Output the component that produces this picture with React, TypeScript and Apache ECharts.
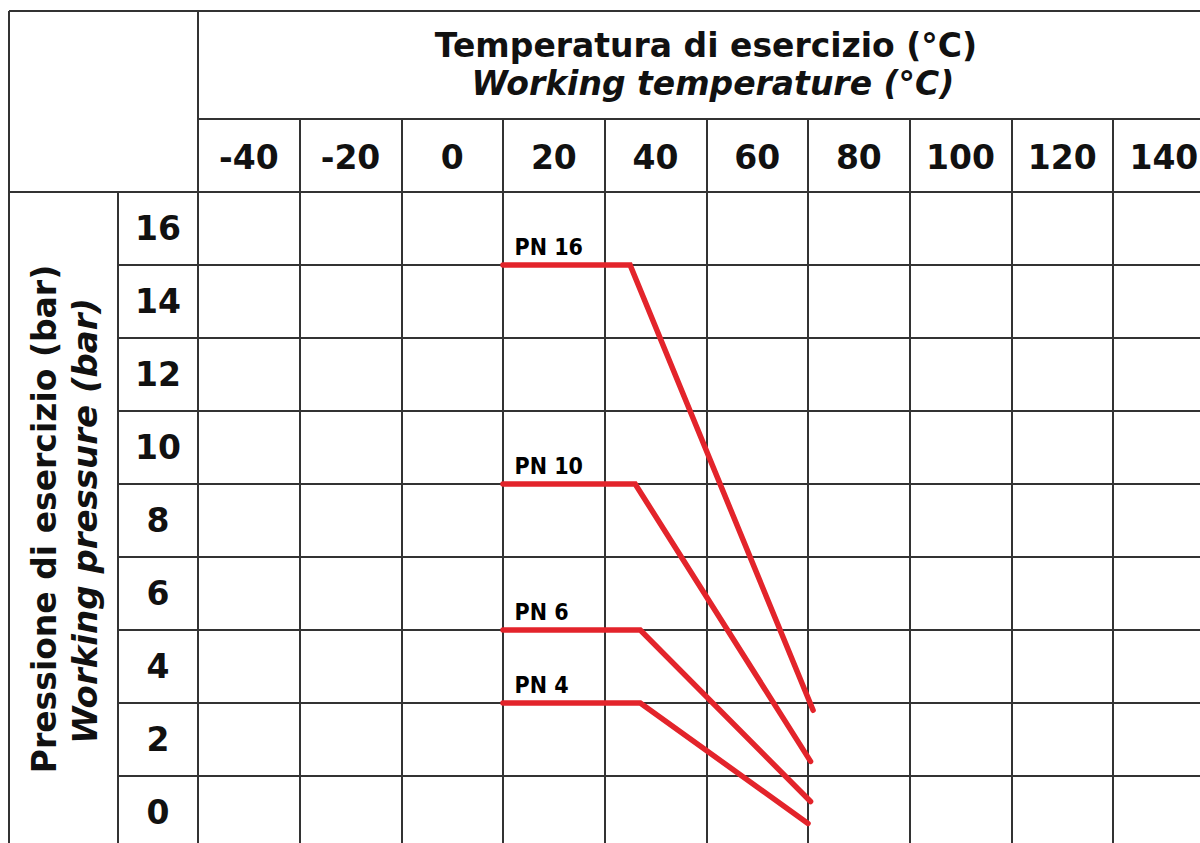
import React, { useEffect, useRef } from "react";
import * as echarts from "echarts";

// Tick labels
const xLabels = ["-40", "-20", "0", "20", "40", "60", "80", "100", "120", "140"];
const yLabels = ["0", "2", "4", "6", "8", "10", "12", "14", "16"];

// Series values [temperature °C, pressure bar]
const pn16 = [[10, 15], [35, 15], [71, 2.8]];
const pn10 = [[10, 9], [36, 9], [70.5, 1.4]];
const pn6 = [[10, 5], [37, 5], [70.5, 0.3]];
const pn4 = [[10, 3], [37, 3], [70, -0.3]];
const seriesNames = ["PN 16", "PN 10", "PN 6", "PN 4"];
const seriesData = [pn16, pn10, pn6, pn4];

const titleX1 = "Temperatura di esercizio (°C)";
const titleX2 = "Working temperature (°C)";
const titleY1 = "Pressione di esercizio (bar)";
const titleY2 = "Working pressure (bar)";

const CW = 1230, CH = 870; // canvas larger than viewport, clipped by wrapper

export default function App() {
  const ref = useRef<HTMLDivElement>(null);
  useEffect(() => {
    if (!ref.current) return;
    const chart = echarts.init(ref.current, null, { renderer: "svg" });

    const W = 1200, H = 843;
    const tableLeft = 9, tableTop = 11, headerMid = 119, headerBottom = 192;
    const yColLeft = 118, plotLeft = 198;
    const colW = 101.67, rowH = 73;
    const plotW = colW * xLabels.length;
    const plotH = rowH * yLabels.length;
    const lineColor = "#333";
    const lw = 2;
    const font = "'DejaVu Sans', Verdana, sans-serif";
    const condFont = "'DejaVu Sans Condensed', 'DejaVu Sans', sans-serif";
    const red = "#e3242b";

    const gl = (x1: number, y1: number, x2: number, y2: number) => ({
      type: "line",
      shape: { x1, y1, x2, y2 },
      style: { stroke: lineColor, lineWidth: lw },
      silent: true,
    });

    const splitLine = { show: true, interval: 0, lineStyle: { color: lineColor, width: lw } };

    const option: any = {
      animation: false,
      backgroundColor: "#fff",
      grid: [
        { left: plotLeft, top: headerBottom, width: plotW, height: plotH },
        { left: plotLeft, top: headerMid, width: plotW, height: headerBottom - headerMid },
        { left: yColLeft, top: headerBottom, width: plotLeft - yColLeft, height: plotH },
      ],
      xAxis: [
        {
          type: "category", gridIndex: 0, data: xLabels, position: "top",
          axisLine: { show: false }, axisTick: { show: false },
          axisLabel: {
            interval: 0, margin: 35, fontSize: 33, fontWeight: "bold",
            fontFamily: font, color: "#111", verticalAlign: "middle",
          },
          splitLine,
        },
        {
          type: "category", gridIndex: 1, data: xLabels,
          axisLine: { show: false }, axisTick: { show: false },
          axisLabel: { show: false }, splitLine,
        },
        { type: "value", gridIndex: 0, min: -50, max: 150, show: false },
        { type: "value", gridIndex: 1, show: false },
        { type: "value", gridIndex: 2, show: false },
      ],
      yAxis: [
        {
          type: "category", gridIndex: 0, data: yLabels,
          axisLine: { show: false }, axisTick: { show: false },
          axisLabel: {
            interval: 0, margin: 40, fontSize: 33, fontWeight: "bold",
            fontFamily: font, color: "#111", align: "center",
          },
          splitLine,
        },
        { type: "value", gridIndex: 1, show: false },
        { type: "value", gridIndex: 0, min: -1, max: 17, show: false },
        {
          type: "category", gridIndex: 2, data: yLabels,
          axisLine: { show: false }, axisTick: { show: false },
          axisLabel: { show: false }, splitLine,
        },
      ],
      series: seriesData.map((d, i) => ({
        type: "line", name: seriesNames[i], xAxisIndex: 2, yAxisIndex: 2,
        data: d.map((p, j) =>
          j === 0
            ? {
                value: p,
                label: {
                  show: true, formatter: seriesNames[i], position: [12, -17.5],
                  align: "left", verticalAlign: "middle",
                  fontFamily: condFont, fontWeight: "bold", fontSize: 23, color: "#000",
                },
              }
            : { value: p }
        ),
        symbol: "circle", symbolSize: 1, showSymbol: true,
        itemStyle: { color: red },
        lineStyle: { color: red, width: 5.5, cap: "round", join: "miter" },
        z: 5,
      })),
      graphic: [
        gl(tableLeft, tableTop, W, tableTop),
        gl(tableLeft, tableTop, tableLeft, H),
        gl(plotLeft, tableTop, plotLeft, H),
        gl(plotLeft, headerMid, W, headerMid),
        gl(tableLeft, headerBottom, W, headerBottom),
        gl(yColLeft, headerBottom, yColLeft, H),
        {
          type: "text", x: 706, y: 45,
          style: { text: titleX1, font: `bold 33px ${font}`, fill: "#111", textAlign: "center", textVerticalAlign: "middle" },
        },
        {
          type: "text", x: 713, y: 83,
          style: { text: titleX2, font: `italic bold 33px ${font}`, fill: "#111", textAlign: "center", textVerticalAlign: "middle" },
        },
        {
          type: "text", x: 44, y: 519, rotation: Math.PI / 2,
          style: { text: titleY1, font: `bold 33px ${font}`, fill: "#111", textAlign: "center", textVerticalAlign: "middle" },
        },
        {
          type: "text", x: 85, y: 521, rotation: Math.PI / 2,
          style: { text: titleY2, font: `italic bold 34px ${font}`, fill: "#111", textAlign: "center", textVerticalAlign: "middle" },
        },
      ],
    };
    chart.setOption(option);
    return () => chart.dispose();
  }, []);

  return (
    <div style={{ position: "fixed", left: 0, top: 0, width: 1200, height: 843, overflow: "hidden", background: "#fff" }}>
      <div ref={ref} style={{ width: CW, height: CH }} />
    </div>
  );
}
